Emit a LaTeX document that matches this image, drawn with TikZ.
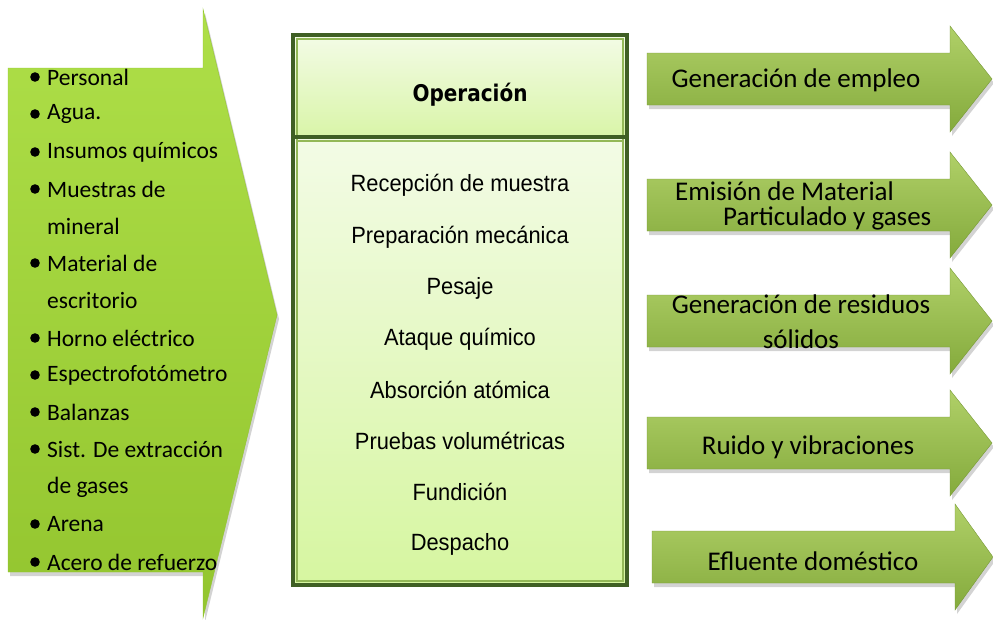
\documentclass[tikz,border=0pt]{standalone}
\usepackage{fontspec}
\setmainfont{Carlito}
\newfontfamily\boxfont[FakeStretch=0.93]{Liberation Sans}
\newfontfamily\headfont[FakeStretch=0.87]{DejaVu Sans}
\usetikzlibrary{shadows}

\definecolor{limelight}{HTML}{AEDF48}
\definecolor{limedark}{HTML}{93C52F}
\definecolor{olivelight}{HTML}{B0D068}
\definecolor{olivedark}{HTML}{84AA3C}
\definecolor{boxborder}{HTML}{3F5F24}
\definecolor{boxinner}{HTML}{93B857}
\definecolor{boxtop}{HTML}{F3FBE6}
\definecolor{boxmid}{HTML}{D9F5A8}
\definecolor{boxbottom}{HTML}{D6F6A0}

\tikzset{
  inarrow/.style={top color=limelight, bottom color=limedark, draw=limedark,
    drop shadow={shadow xshift=2pt, shadow yshift=-4pt, opacity=0.35}},
  outarrow/.style={top color=olivelight, bottom color=olivedark, draw=olivedark!90!black,
    drop shadow={shadow xshift=2pt, shadow yshift=-4pt, opacity=0.35}},
  listitem/.style={anchor=west, inner sep=0pt, font=\fontsize{23.5}{28}\selectfont},
  stageitem/.style={inner sep=0pt, font=\boxfont\fontsize{23.5}{28}\selectfont},
  effectitem/.style={inner sep=0pt, font=\fontsize{27}{32}\selectfont}
}

\begin{document}
\begin{tikzpicture}[x=1pt, y=-1pt]
            \useasboundingbox (0,0) rectangle (993,619);

            % inputs
            \draw[inarrow] (8,68) -- (203,68) -- (203,9) -- (277,315) -- (203,618)
                -- (203,572) -- (8,572) -- cycle;

            \fill (35,77) circle [radius=4.8];
                \node[listitem] (personal) at (47,77) {Personal};
            \fill (35,114) circle [radius=4.8];
                \node[listitem] (agua) at (47,114) {Agua.};
            \fill (35,152) circle [radius=4.8];
                \node[listitem] (insumos) at (47,152) {Insumos químicos};
            \fill (35,189) circle [radius=4.8];
                \node[listitem] (muestras) at (47,189) {Muestras de};
                \node[listitem] (mineral) at (47,226) {mineral};
            \fill (35,263) circle [radius=4.8];
                \node[listitem] (material) at (47,263) {Material de};
                \node[listitem] (escritorio) at (47,300) {escritorio};
            \fill (35,338) circle [radius=4.8];
                \node[listitem] (horno) at (47,338) {Horno eléctrico};
            \fill (35,375) circle [radius=4.8];
                \node[listitem] (espectro) at (47,375) {Espectrofotómetro};
            \fill (35,412) circle [radius=4.8];
                \node[listitem] (balanzas) at (47,412) {Balanzas};
            \fill (35,449) circle [radius=4.8];
                \node[listitem] (sistema) at (47,449) {Sist. De extracción};
                \node[listitem] (gases) at (47,487) {de gases};
            \fill (35,524) circle [radius=4.8];
                \node[listitem] (arena) at (47,524) {Arena};
            \fill (35,562) circle [radius=4.8];
                \node[listitem] (acero) at (47,562) {Acero de refuerzo};

            % operacion
            \fill[top color=boxtop, bottom color=boxmid] (293,35) rectangle (627,137);
            \fill[top color=boxtop, bottom color=boxbottom] (293,137) rectangle (627,585);
            \draw[boxinner, line width=1.5pt] (297,39) rectangle (623,581);
            \draw[boxinner, line width=1.5pt] (297,141) -- (623,141);
            \draw[boxborder, line width=4.5pt] (293,35) rectangle (627,585);
            \draw[boxborder, line width=4.5pt] (293,137) -- (627,137);
                \node[font=\headfont\bfseries\fontsize{23}{27}\selectfont] (operacion) at (470,95) {Operación};

            \foreach \y/\name/\txt in {185/recepcion/Recepción de muestra,
                                      237/preparacion/Preparación mecánica,
                                      288/pesaje/Pesaje,
                                      339/ataque/Ataque químico,
                                      390/absorcion/Absorción atómica,
                                      441/pruebas/Pruebas volumétricas,
                                      492/fundicion/Fundición,
                                      544/despacho/Despacho}
                \node[stageitem] (\name) at (460,\y) {\txt};

            % effects
            \foreach \l/\h/\t/\c in {647/950/992/79, 647/950/992/205, 647/950/992/321,
                                     647/950/992/443, 652/955/993/557}
                \draw[outarrow] (\l,\c-26) -- (\h,\c-26) -- (\h,\c-53) -- (\t,\c)
                    -- (\h,\c+53) -- (\h,\c+26) -- (\l,\c+26) -- cycle;

                \node[effectitem] (empleo) at (796,80) {Generación de empleo};
                \node[effectitem, align=left, font=\fontsize{27}{25}\selectfont, anchor=west]
                    (emision) at (675,206) {Emisión de Material\\\hspace*{48pt}Particulado y gases};
                \node[effectitem, align=center, font=\fontsize{27}{35}\selectfont]
                    (residuos) at (801,322) {Generación de residuos\\sólidos};
                \node[effectitem] (ruido) at (808,447) {Ruido y vibraciones};
                \node[effectitem] (efluente) at (813,561) {Efluente doméstico};
      \end{tikzpicture}
\end{document}
